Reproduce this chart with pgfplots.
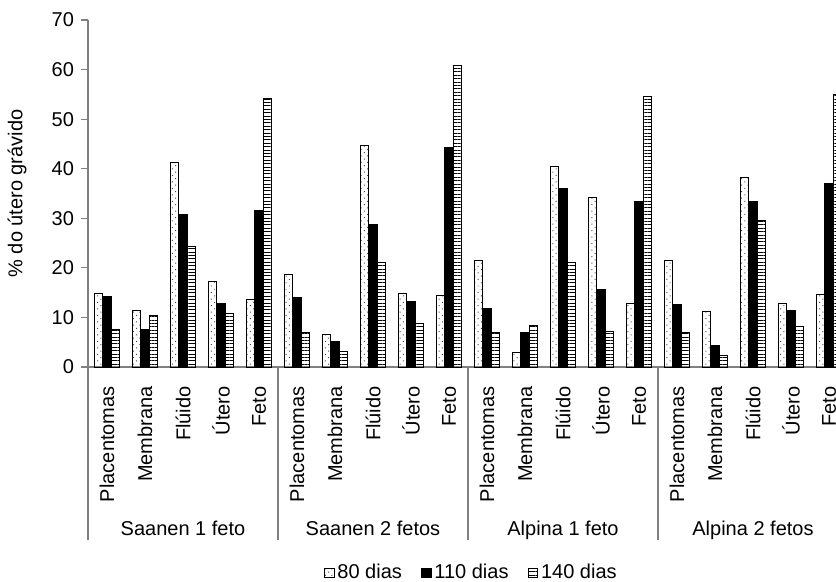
\documentclass[border=0pt]{standalone}
\usepackage{fontspec}
\setmainfont{Liberation Sans}
\usepackage{pgfplots}
\usepackage{pgfplotstable}
\pgfplotsset{compat=1.18}
\usetikzlibrary{patterns.meta}

% % do utero gravido, por grupo e componente
\pgfplotstableread{
x  d80  d110 d140
0  14.9 14.3 7.5
1  11.4 7.5  10.4
2  41.2 30.7 24.3
3  17.2 12.9 10.9
4  13.6 31.6 54.1
5  18.7 14.1 6.9
6  6.5  5.2  3.2
7  44.7 28.8 21.1
8  14.9 13.3 8.8
9  14.5 44.2 60.8
10 21.5 11.9 6.9
11 3.0  6.9  8.3
12 40.5 36.0 21.1
13 34.3 15.6 7.1
14 12.8 33.3 54.6
15 21.4 12.7 7.0
16 11.2 4.4  2.3
17 38.2 33.3 29.5
18 12.9 11.4 8.1
19 14.7 37.0 55.0
}\datatable

\definecolor{axisgray}{RGB}{128,128,128}

\begin{document}
\begin{tikzpicture}
\begin{axis}[
    at={(0pt,0pt)}, anchor=south west,
    scale only axis, width=380pt, height=173.5pt,
    ybar=0pt, bar width=4.3pt,
    xmin=-0.5, xmax=19.5, ymin=0, ymax=70,
    ytick={0,10,...,70},
    xtick={0,...,19},
    xticklabels={Placentomas,Membrana,Flúido,Útero,Feto,
                 Placentomas,Membrana,Flúido,Útero,Feto,
                 Placentomas,Membrana,Flúido,Útero,Feto,
                 Placentomas,Membrana,Flúido,Útero,Feto},
    xticklabel style={rotate=90, anchor=east, inner xsep=6pt},
    xtick style={draw=none},
    axis x line*=bottom, axis y line*=left,
    axis line style={axisgray, line width=0.6pt},
    ytick style={axisgray, line width=0.6pt},
    tick align=outside, major tick length=3.5pt,
    ylabel={\% do útero grávido},
    every axis y label/.style={at={(axis description cs:-0.0934,0.5)}, rotate=90, anchor=center},
    /pgf/number format/assume math mode=true,
    legend style={at={(0.505,-0.5937)}, anchor=center, draw=none,
        legend columns=3, nodes={inner xsep=1.5pt},
        /tikz/every even column/.append style={column sep=8pt}},
    legend image code/.code={\draw[#1] (0pt,-2.4pt) rectangle (4.8pt,2.4pt);},
    clip=false,
]
\addplot[draw=black, line width=0.45pt,
    pattern={Dots[angle=45,distance=2.3pt,radius=0.35pt]}, pattern color=black!70]
    table[x=x, y=d80] {\datatable};
\addplot[draw=black, line width=0.45pt, fill=black]
    table[x=x, y=d110] {\datatable};
\addplot[draw=black, line width=0.45pt,
    pattern={Lines[angle=0,distance=1.7pt,line width=0.5pt]}]
    table[x=x, y=d140] {\datatable};
\legend{80 dias, 110 dias, 140 dias}

\pgfplotsinvokeforeach{-0.5,4.5,9.5,14.5,19.5}{
    \draw[axisgray, line width=0.6pt] (axis cs:#1,0) -- ++(0pt,-86.5pt);
}
\node[anchor=base] at ([yshift=-84.5pt]axis cs:2,0) {Saanen 1 feto};
\node[anchor=base] at ([yshift=-84.5pt]axis cs:7,0) {Saanen 2 fetos};
\node[anchor=base] at ([yshift=-84.5pt]axis cs:12,0) {Alpina 1 feto};
\node[anchor=base] at ([yshift=-84.5pt]axis cs:17,0) {Alpina 2 fetos};
\end{axis}
\pgfresetboundingbox
\path[use as bounding box] (-44pt,-107.5pt) rectangle (374pt,183.5pt);
\end{tikzpicture}
\end{document}
